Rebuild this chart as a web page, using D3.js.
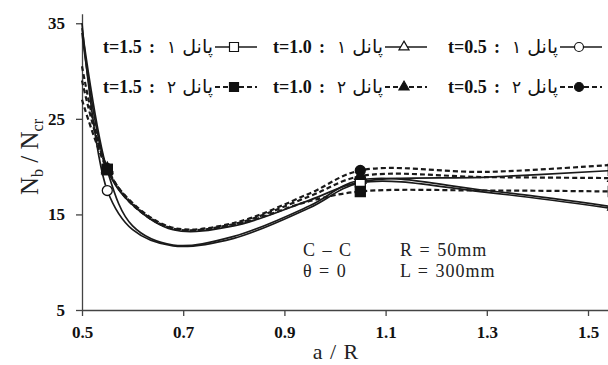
<!DOCTYPE html>
<html>
<head>
<meta charset="utf-8">
<script src="https://cdn.jsdelivr.net/npm/d3@7"></script>
<style>
  body { margin: 0; background: #fff; }
  svg { display: block; }
</style>
</head>
<body>
<svg id="chart" width="608" height="365"></svg>
<script>
// a/R values, markers only sit on markerAR
const aR = [0.5, 0.55, 0.6, 0.68, 0.8, 0.95, 1.05, 1.3, 1.55];
const markerAR = [0.55, 1.05, 1.55];

// panel 1 (solid, open markers)
const p1t05 = [35, 17.5, 13.4, 11.7, 12.5, 15.7, 18.3, 17.3, 15.6];
const p1t10 = [34.5, 19.6, 13.8, 11.8, 12.7, 15.9, 18.6, 17.5, 15.8];
const p1t15 = [34, 19.7, 16.0, 13.4, 13.8, 16.5, 18.4, 18.9, 19.6];
// panel 2 (dashed, filled markers)
const p2t05 = [30.5, 19.8, 16.2, 13.6, 14.1, 17.2, 19.6, 19.45, 20.2];
const p2t10 = [29, 19.8, 16.1, 13.5, 14.0, 16.9, 19.0, 18.9, 18.8];
const p2t15 = [27, 19.7, 16.0, 13.5, 13.9, 16.4, 17.4, 17.5, 17.4];

const xTicks = [0.5, 0.7, 0.9, 1.1, 1.3, 1.5];
const yTicks = [5, 15, 25, 35];

const series = [
  {name: "t=0.5", panel: "۱", values: p1t05, shape: "circle", filled: false},
  {name: "t=1.0", panel: "۱", values: p1t10, shape: "triangle", filled: false},
  {name: "t=1.5", panel: "۱", values: p1t15, shape: "square", filled: false},
  {name: "t=0.5", panel: "۲", values: p2t05, shape: "circle", filled: true},
  {name: "t=1.0", panel: "۲", values: p2t10, shape: "triangle", filled: true},
  {name: "t=1.5", panel: "۲", values: p2t15, shape: "square", filled: true}
];

const svg = d3.select('#chart');

const x = d3.scaleLinear().domain([0.5, 1.5395]).range([82, 608]);
const y = d3.scaleLinear().domain([5, 36]).range([310, 13.7]);

const symbols = {
  circle: d3.symbol().type(d3.symbolCircle).size(78),
  triangle: d3.symbol().type(d3.symbolTriangle).size(55),
  square: d3.symbol().type(d3.symbolSquare).size(100)
};

// axes
const xAxis = svg.append("g")
  .attr("transform", "translate(0,310)")
  .call(d3.axisBottom(x).tickValues(xTicks).tickSizeInner(6).tickSizeOuter(0).tickPadding(10)
    .tickFormat(d3.format(".1f")));
const yAxis = svg.append("g")
  .attr("transform", "translate(82,0)")
  .call(d3.axisLeft(y).tickValues(yTicks).tickSizeInner(6).tickSizeOuter(0).tickPadding(11));

[xAxis, yAxis].forEach(a => {
  a.select(".domain").attr("stroke", "#444").attr("stroke-width", 1.3);
  a.selectAll(".tick line").attr("stroke", "#444").attr("stroke-width", 1.3);
  a.selectAll(".tick text")
    .attr("fill", "#111")
    .style("font-family", "'Liberation Serif', serif")
    .style("font-weight", "bold")
    .style("font-size", "17px");
});

// lines
const line = d3.line()
  .x((d, i) => x(aR[i]))
  .y(d => y(d))
  .curve(d3.curveCatmullRom.alpha(0.5));

const lineG = svg.append("g").attr("fill", "none");
series.forEach(s => {
  lineG.append("path")
    .attr("d", line(s.values))
    .attr("stroke", "#1a1a1a")
    .attr("stroke-width", s.filled ? 2.2 : 1.7)
    .attr("stroke-dasharray", s.filled ? "5,3" : null);
});

// markers
const markG = svg.append("g");
series.forEach(s => {
  markerAR.forEach(a => {
    const i = aR.indexOf(a);
    markG.append("path")
      .attr("d", symbols[s.shape]())
      .attr("transform", `translate(${x(a)},${y(s.values[i])})`)
      .attr("fill", s.filled ? "#111" : "#fff")
      .attr("stroke", "#111")
      .attr("stroke-width", 1.3);
  });
});

// legend
const legendX = {"t=1.5": 103, "t=1.0": 273, "t=0.5": 448};
const legendRow = {"۱": 53, "۲": 93};
const leg = svg.append("g");
series.forEach(s => {
  const x0 = legendX[s.name];
  const by = legendRow[s.panel];
  leg.append("text").attr("x", x0).attr("y", by).text(s.name)
    .style("font-family", "'Liberation Serif', serif").style("font-weight", "bold")
    .style("font-size", "18px").attr("fill", "#111");
  leg.append("text").attr("x", x0 + 46).attr("y", by).text(":")
    .style("font-family", "'Liberation Serif', serif").style("font-weight", "bold")
    .style("font-size", "18px").attr("fill", "#111");
  leg.append("text").attr("x", x0 + 64).attr("y", by).text(s.panel)
    .style("font-family", "'DejaVu Sans', sans-serif")
    .style("font-size", "17px").attr("fill", "#111");
  leg.append("text").attr("x", x0 + 110).attr("y", by).attr("text-anchor", "end").text("پانل")
    .style("font-family", "'DejaVu Sans', sans-serif")
    .style("font-size", "19px").attr("fill", "#111");
  const lx1 = x0 + 112, lx2 = Math.min(x0 + 154, 608), cy = by - 6;
  leg.append("line")
    .attr("x1", lx1).attr("x2", lx2).attr("y1", cy).attr("y2", cy)
    .attr("stroke", "#1a1a1a")
    .attr("stroke-width", s.filled ? 2.2 : 1.6)
    .attr("stroke-dasharray", s.filled ? "5,3" : null);
  leg.append("path")
    .attr("d", symbols[s.shape]())
    .attr("transform", `translate(${x0 + 131},${cy}) scale(0.9)`)
    .attr("fill", s.filled ? "#111" : "#fff")
    .attr("stroke", "#111")
    .attr("stroke-width", 1.3);
});

// annotation box
const note = svg.append("g")
  .style("font-family", "'Liberation Serif', serif")
  .style("font-size", "18px")
  .style("letter-spacing", "1px")
  .style("word-spacing", "1px")
  .attr("fill", "#222");
note.append("text").attr("x", 303).attr("y", 256).text("C – C");
note.append("text").attr("x", 400).attr("y", 256).text("R = 50mm");
note.append("text").attr("x", 303).attr("y", 277).text("θ = 0");
note.append("text").attr("x", 400).attr("y", 277).text("L = 300mm");

// axis titles
svg.append("text")
  .attr("x", 336).attr("y", 359)
  .attr("text-anchor", "middle")
  .style("font-family", "'Liberation Serif', serif")
  .style("font-size", "22px")
  .style("letter-spacing", "1px")
  .attr("fill", "#222")
  .text("a / R");

const yTitle = svg.append("text")
  .attr("transform", "translate(38,157) rotate(-90)")
  .attr("text-anchor", "middle")
  .style("font-family", "'Liberation Serif', serif")
  .style("font-size", "25px")
  .attr("fill", "#222");
yTitle.append("tspan").text("N");
yTitle.append("tspan").attr("dy", 5).style("font-size", "16px").text("b");
yTitle.append("tspan").attr("dy", -5).text(" / N");
yTitle.append("tspan").attr("dy", 5).style("font-size", "16px").text("cr");
</script>
</body>
</html>
